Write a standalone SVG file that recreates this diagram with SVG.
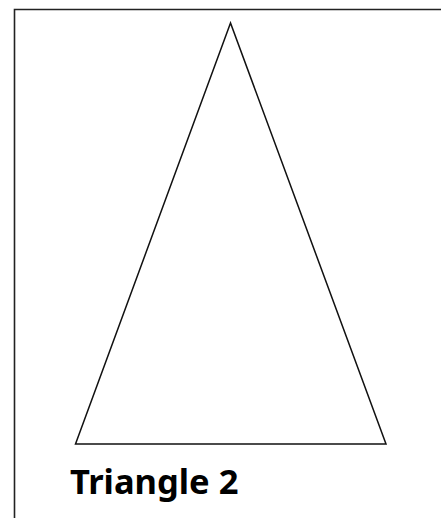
<svg xmlns="http://www.w3.org/2000/svg" width="441" height="518" viewBox="0 0 441 518">
<style>
.frame{fill:none;stroke:#222;stroke-width:1.6}
.tri{fill:#fff;stroke:#111;stroke-width:1.5;stroke-linejoin:miter}
.lbl{font-family:"Noto Sans","Open Sans",sans-serif;font-weight:bold;font-size:34.5px;fill:#000}
</style>
<rect width="441" height="518" fill="#fff"/>
<path class="frame" d="M14.5,518 V9.5 H441"/>
<g id="triangle2">
<polygon class="tri" points="230.5,23 75.5,444 386,444"/>
<text class="lbl" x="70" y="494">Triangle 2</text>
</g>
</svg>
